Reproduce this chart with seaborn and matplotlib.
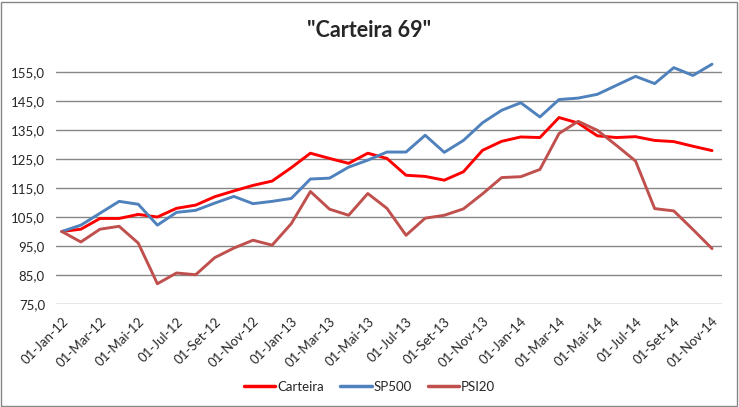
import matplotlib
matplotlib.use("Agg")
import matplotlib.pyplot as plt
import pandas as pd
import seaborn as sns
from matplotlib.patches import Rectangle

# monthly values, Jan-12 .. Nov-14 (base 100)
carteira = [100.0, 100.8, 104.5, 104.5, 105.9, 105.0, 108.0, 109.1, 112.0, 114.0, 115.9, 117.4,
            122.0, 127.0, 125.2, 123.5, 127.0, 125.2, 119.4, 119.0, 117.7, 120.6, 128.0, 131.1,
            132.6, 132.4, 139.3, 137.4, 133.0, 132.4, 132.7, 131.4, 131.0, 129.4, 127.9]
sp500 = [100.0, 102.2, 106.3, 110.4, 109.4, 102.2, 106.6, 107.3, 109.8, 112.1, 109.6, 110.4,
         111.4, 118.1, 118.4, 122.2, 124.6, 127.4, 127.4, 133.2, 127.3, 131.4, 137.5, 141.8,
         144.4, 139.5, 145.5, 146.0, 147.3, 150.4, 153.5, 151.0, 156.5, 153.8, 157.7]
psi20 = [100.0, 96.4, 100.8, 101.8, 96.0, 82.0, 85.7, 85.1, 91.0, 94.3, 97.0, 95.3,
         102.7, 113.8, 107.7, 105.6, 113.1, 108.0, 98.7, 104.6, 105.6, 107.8, 113.0, 118.6,
         118.9, 121.4, 133.8, 138.0, 134.9, 129.7, 124.3, 107.9, 107.1, 100.7, 94.1]

month_names = ["Jan", "Fev", "Mar", "Abr", "Mai", "Jun", "Jul", "Ago", "Set", "Out", "Nov", "Dez"]
years = [12, 13, 14]
date_labels = [f"01-{m}-{y}" for y in years for m in month_names][:len(carteira)]
y_ticks = [75, 85, 95, 105, 115, 125, 135, 145, 155]

series = {"Carteira": carteira, "SP500": sp500, "PSI20": psi20}
colors = {"Carteira": "#FF0000", "SP500": "#4F81BD", "PSI20": "#C0504D"}

df = pd.concat(
    [pd.DataFrame({"mes": range(len(v)), "valor": v, "serie": k}) for k, v in series.items()],
    ignore_index=True,
)

sns.set_style("white")
plt.rcParams["font.family"] = ["Lato", "DejaVu Sans"]

fig = plt.figure(figsize=(7.39, 4.07), dpi=100)
ax = fig.add_axes([0.0758, 0.253, 0.977 - 0.0758, 0.873 - 0.253])

sns.lineplot(data=df, x="mes", y="valor", hue="serie", palette=colors,
             linewidth=2.1, ax=ax, legend=False)

ax.set_ylim(75, 162)
ax.set_xlim(-0.3, len(carteira) - 0.48)
ax.set_yticks(y_ticks)
ax.set_yticklabels([f"{t:.1f}".replace(".", ",") for t in y_ticks], fontsize=9.5)
ax.set_xticks(range(0, len(carteira), 2))
ax.set_xticklabels(date_labels[::2], rotation=45, ha="right", rotation_mode="anchor", fontsize=9.5)
ax.tick_params(axis="both", length=0)
ax.tick_params(axis="y", pad=8)
ax.tick_params(axis="x", pad=8)
ax.grid(axis="y", color="#868686", linewidth=1.0)
ax.set_axisbelow(True)
for side in ["top", "right", "left", "bottom"]:
    ax.spines[side].set_visible(False)
ax.set_xlabel("")
ax.set_ylabel("")

handles = [plt.Line2D([], [], color=colors[k], linewidth=2.5) for k in series]
fig.legend(handles, list(series), loc="center", bbox_to_anchor=(0.5, 0.05), ncol=3,
           frameon=False, fontsize=9.5, handlelength=2.4, handletextpad=0.15, columnspacing=1.2)

fig.text(0.5, 0.926, '"Carteira 69"', ha="center", va="center", fontsize=15.5, fontweight="bold")

fig.patches.append(Rectangle((0.002, 0.003), 0.995, 0.993, transform=fig.transFigure,
                             fill=False, edgecolor="#868686", linewidth=1.0))

fig.savefig("out.png", dpi=100)
